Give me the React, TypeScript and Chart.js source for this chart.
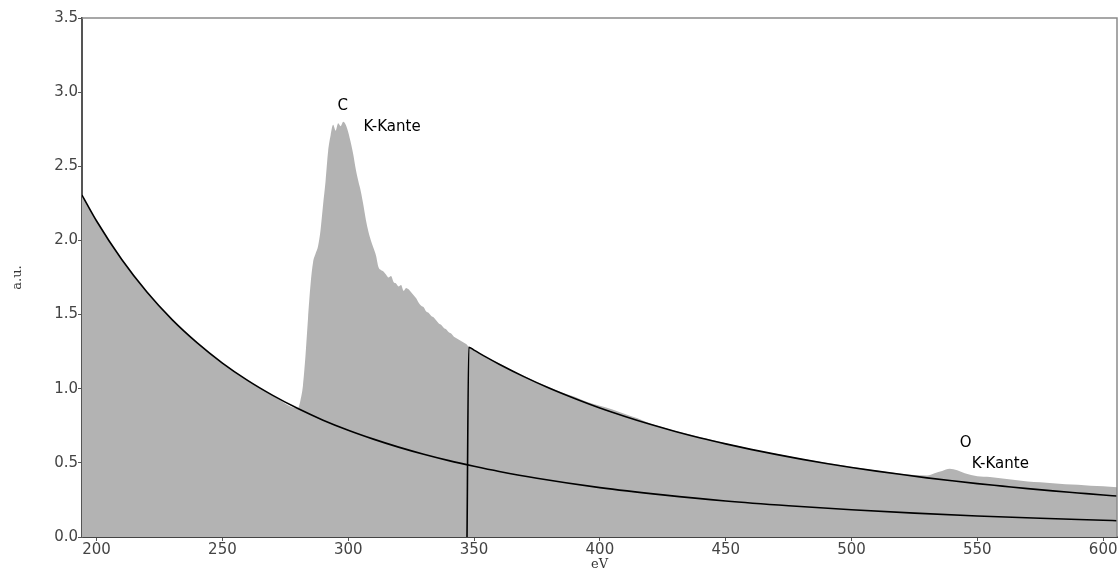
import React, { useEffect, useRef } from "react";
import { Chart, registerables } from "chart.js";

Chart.register(...registerables);

// Energy-loss spectrum (eV) and measured intensity (a.u.)
const lossEnergy = [
  194.2, 200, 210, 220, 230, 240, 250, 260, 270, 280,
  281, 282, 283, 284, 285, 286, 287, 288, 289, 290,
  291, 292, 293, 294, 295, 296, 297, 298, 299, 300,
  301, 302, 303, 304, 305, 306, 307, 308, 309, 310,
  311, 312, 313, 314, 315, 316, 317, 318, 319, 320,
  321, 322, 323, 324, 325, 326, 327, 328, 329, 330,
  331, 332, 333, 334, 335, 336, 337, 338, 339, 340,
  341, 342, 343, 344, 345, 346, 347, 348,
  350, 355, 360, 365, 370, 375, 380, 385, 390, 395,
  400, 405, 410, 415, 420, 425, 430, 435, 440, 445,
  450, 455, 460, 465, 470, 475, 480, 485, 490, 495,
  500, 505, 510, 515, 520, 525, 530, 533, 536, 539,
  542, 545, 550, 555, 560, 565, 570, 575, 580, 585,
  590, 595, 600, 605.5,
];
const lossIntensity = [
  2.306, 2.131, 1.871, 1.652, 1.466, 1.309, 1.173, 1.056, 0.955, 0.868,
  0.92, 1.02, 1.22, 1.47, 1.70, 1.85, 1.91, 1.96, 2.07, 2.24,
  2.40, 2.60, 2.71, 2.78, 2.74, 2.79, 2.77, 2.80, 2.78, 2.73,
  2.66, 2.58, 2.48, 2.40, 2.33, 2.24, 2.14, 2.06, 2.00, 1.95,
  1.90, 1.82, 1.80, 1.79, 1.77, 1.75, 1.76, 1.72, 1.71, 1.69,
  1.70, 1.66, 1.68, 1.67, 1.65, 1.63, 1.61, 1.58, 1.56, 1.55,
  1.52, 1.51, 1.49, 1.48, 1.46, 1.44, 1.43, 1.41, 1.40, 1.38,
  1.37, 1.35, 1.34, 1.33, 1.32, 1.31, 1.30, 1.28,
  1.26, 1.21, 1.17, 1.125, 1.085, 1.045, 1.01, 0.975, 0.945, 0.91,
  0.885, 0.86, 0.83, 0.80, 0.765, 0.74, 0.715, 0.695, 0.672, 0.652,
  0.632, 0.613, 0.594, 0.577, 0.561, 0.545, 0.529, 0.514, 0.500, 0.487,
  0.474, 0.461, 0.449, 0.437, 0.426, 0.418, 0.415, 0.43, 0.445, 0.46,
  0.45, 0.43, 0.41, 0.405, 0.395, 0.385, 0.375, 0.37, 0.362, 0.355,
  0.352, 0.345, 0.342, 0.335,
];

// Background fit below the C K-edge
const preEdgeEnergy = [
  194.2, 200, 210, 220, 230, 240, 250, 260, 270, 280,
  290, 300, 310, 320, 330, 340, 350, 360, 375, 400,
  425, 450, 475, 500, 525, 550, 575, 600, 605.5,
];
const preEdgeFit = [
  2.306, 2.131, 1.871, 1.652, 1.466, 1.309, 1.173, 1.056, 0.955, 0.866,
  0.788, 0.720, 0.660, 0.606, 0.558, 0.515, 0.477, 0.442, 0.396, 0.333,
  0.284, 0.243, 0.211, 0.184, 0.161, 0.142, 0.126, 0.113, 0.110,
];

// Background fit above the C K-edge (starts at the edge)
const postEdgeEnergy = [
  347.2, 347.9, 350, 355, 360, 370, 380, 390, 400, 410,
  420, 430, 440, 450, 460, 470, 480, 490, 500, 510,
  520, 530, 540, 550, 560, 570, 580, 590, 600, 605.5,
];
const postEdgeFit = [
  0, 1.28, 1.26, 1.211, 1.165, 1.08, 1.003, 0.934, 0.87, 0.813,
  0.76, 0.712, 0.668, 0.628, 0.591, 0.557, 0.525, 0.496, 0.469, 0.444,
  0.421, 0.399, 0.379, 0.36, 0.343, 0.326, 0.311, 0.297, 0.283, 0.276,
];

const xTicks = [200, 250, 300, 350, 400, 450, 500, 550, 600];
const yTicks = [0, 0.5, 1.0, 1.5, 2.0, 2.5, 3.0, 3.5];

// Edge annotations: element symbol and edge name
const edgeNames = ["C", "O"];
const edgeSymbolAt = [
  [297.8, 2.906],
  [545.4, 0.634],
];
const edgeTextAt = [
  [306.1, 2.765],
  [547.8, 0.492],
];
const edgeText = "K-Kante";

const toPoints = (xs: number[], ys: number[]) => xs.map((x, i) => ({ x, y: ys[i] }));

const framePlugin = {
  id: "frame",
  afterDraw(chart: any) {
    const { ctx, chartArea } = chart;
    ctx.save();
    ctx.strokeStyle = "#8a8a8a";
    ctx.lineWidth = 1.5;
    ctx.beginPath();
    ctx.moveTo(chartArea.left, chartArea.top);
    ctx.lineTo(chartArea.right, chartArea.top);
    ctx.lineTo(chartArea.right, chartArea.bottom);
    ctx.stroke();
    ctx.restore();
  },
};

const edgeLabelPlugin = {
  id: "edgeLabels",
  afterDatasetsDraw(chart: any) {
    const { ctx, scales } = chart;
    ctx.save();
    ctx.fillStyle = "#000";
    ctx.font = "15px 'DejaVu Sans'";
    ctx.textBaseline = "middle";
    edgeNames.forEach((name, i) => {
      ctx.textAlign = "center";
      ctx.fillText(
        name,
        scales.x.getPixelForValue(edgeSymbolAt[i][0]),
        scales.y.getPixelForValue(edgeSymbolAt[i][1])
      );
      ctx.textAlign = "left";
      ctx.fillText(
        edgeText,
        scales.x.getPixelForValue(edgeTextAt[i][0]),
        scales.y.getPixelForValue(edgeTextAt[i][1])
      );
    });
    ctx.restore();
  },
};

export default function App() {
  const canvasRef = useRef<HTMLCanvasElement | null>(null);

  useEffect(() => {
    if (!canvasRef.current) return;
    const tickFont = { family: "'DejaVu Sans'", size: 15 };
    const titleFont = { family: "'DejaVu Serif'", size: 13 };
    const chart = new Chart(canvasRef.current, {
      type: "line",
      data: {
        datasets: [
          {
            label: "Untergrund vor der Kante",
            data: toPoints(preEdgeEnergy, preEdgeFit),
            borderColor: "#000",
            borderWidth: 1.6,
            pointRadius: 0,
            fill: false,
            cubicInterpolationMode: "monotone",
          },
          {
            label: "Untergrund nach der Kante",
            data: toPoints(postEdgeEnergy, postEdgeFit),
            borderColor: "#000",
            borderWidth: 1.6,
            pointRadius: 0,
            fill: false,
            cubicInterpolationMode: "monotone",
          },
          {
            label: "Spektrum",
            data: toPoints(lossEnergy, lossIntensity),
            borderWidth: 0,
            borderColor: "rgba(0,0,0,0)",
            backgroundColor: "#b3b3b3",
            pointRadius: 0,
            fill: "origin",
            cubicInterpolationMode: "monotone",
          },
        ],
      },
      options: {
        animation: false,
        responsive: false,
        devicePixelRatio: 1,
        layout: { padding: { top: 18, right: 3, left: 0, bottom: 0 } },
        plugins: {
          legend: { display: false },
          tooltip: { enabled: false },
        },
        scales: {
          x: {
            type: "linear",
            min: 194.2,
            max: 605.5,
            afterFit(scale: any) {
              scale.height = 35;
            },
            afterBuildTicks(scale: any) {
              scale.ticks = xTicks.map((value) => ({ value }));
            },
            ticks: {
              font: tickFont,
              color: "#444",
              padding: 0,
              maxRotation: 0,
              callback: (v: any) => String(v),
            },
            grid: {
              drawOnChartArea: false,
              drawTicks: true,
              tickLength: 4,
              color: "#555",
            },
            border: { color: "#444", width: 2 },
            title: {
              display: true,
              text: "eV",
              font: titleFont,
              color: "#333",
              padding: { top: 0, bottom: 0 },
            },
          },
          y: {
            type: "linear",
            min: 0,
            max: 3.5,
            afterFit(scale: any) {
              scale.width = 82;
            },
            afterBuildTicks(scale: any) {
              scale.ticks = yTicks.map((value) => ({ value }));
            },
            ticks: {
              font: tickFont,
              color: "#444",
              padding: 0,
              callback: (v: any) => Number(v).toFixed(1),
            },
            grid: {
              drawOnChartArea: false,
              drawTicks: true,
              tickLength: 4,
              color: "#555",
            },
            border: { color: "#555", width: 2 },
            title: {
              display: true,
              text: "a.u.",
              font: titleFont,
              color: "#333",
              padding: { top: 10, bottom: 0 },
            },
          },
        },
      },
      plugins: [framePlugin, edgeLabelPlugin],
    } as any);
    return () => chart.destroy();
  }, []);

  return (
    <div style={{ position: "absolute", left: 0, top: 0, width: 1120, height: 572, background: "#fff" }}>
      <canvas ref={canvasRef} width={1120} height={572} />
    </div>
  );
}
